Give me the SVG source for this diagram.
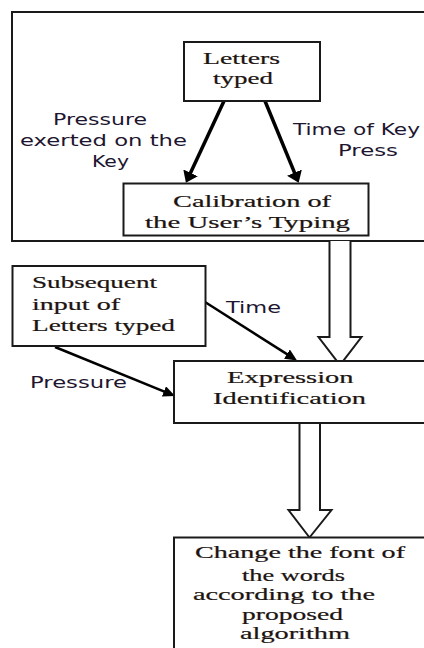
<svg xmlns="http://www.w3.org/2000/svg" width="424" height="648" viewBox="0 0 424 648">
<defs>
<style>
.box{fill:#fff;stroke:#1a1a1a;stroke-width:2}
.serif{font-family:"Liberation Serif","Times New Roman",serif;font-size:17px;fill:#1c1410;stroke:#1c1410;stroke-width:0.2}
.serif2{font-family:"Liberation Serif","Times New Roman",serif;font-size:16px;fill:#1c1410;stroke:#1c1410;stroke-width:0.2}
.sans{font-family:"DejaVu Sans",Verdana,sans-serif;font-size:15px;fill:#1e1630}
.thick{stroke:#000;stroke-width:3.5;fill:none}
.thin{stroke:#000;stroke-width:2.5;fill:none}
.hollow{fill:#fff;stroke:#1a1a1a;stroke-width:2;stroke-linejoin:miter}
</style>
<marker id="headBig" viewBox="0 0 10 10" refX="7" refY="5" markerWidth="11" markerHeight="16" markerUnits="userSpaceOnUse" orient="auto" preserveAspectRatio="none">
<path d="M0,0 L10,5 L0,10 z" fill="#000"/>
</marker>
<marker id="headSmall" viewBox="0 0 10 10" refX="7" refY="5" markerWidth="12" markerHeight="11" markerUnits="userSpaceOnUse" orient="auto" preserveAspectRatio="none">
<path d="M0,0 L10,5 L0,10 z" fill="#000"/>
</marker>
</defs>
<rect width="424" height="648" fill="#fff"/>

<g id="outer">
<rect class="box" x="12" y="12" width="430" height="229"/>
</g>

<g id="connectors">
<line class="thick" x1="224" y1="101" x2="187.3" y2="179.8" marker-end="url(#headBig)"/>
<line class="thick" x1="265" y1="101" x2="297.4" y2="179.7" marker-end="url(#headBig)"/>
<line class="thin" x1="205" y1="302" x2="294" y2="358.6" marker-end="url(#headSmall)"/>
<line class="thin" x1="55" y1="347" x2="171.7" y2="394.6" marker-end="url(#headSmall)"/>
<path class="hollow" d="M329.5,241 V337 H318.5 L340,365 L361.5,337 H350.5 V241"/>
<path class="hollow" d="M299.5,423 V510 H288.5 L309.5,537.5 L331.5,510 H320 V423"/>
</g>
<g id="labels">
<text class="sans" x="53" y="125" textLength="94" lengthAdjust="spacingAndGlyphs">Pressure</text>
<text class="sans" x="20" y="145.5" textLength="167" lengthAdjust="spacingAndGlyphs">exerted on the</text>
<text class="sans" x="92" y="166.5" textLength="37" lengthAdjust="spacingAndGlyphs">Key</text>
<text class="sans" x="293" y="135" textLength="127" lengthAdjust="spacingAndGlyphs">Time of Key</text>
<text class="sans" x="338" y="156" textLength="60" lengthAdjust="spacingAndGlyphs">Press</text>
<text class="sans" x="226" y="312.5" textLength="55" lengthAdjust="spacingAndGlyphs">Time</text>
<text class="sans" x="30" y="388" textLength="97" lengthAdjust="spacingAndGlyphs">Pressure</text>
</g>

<g id="letters-typed">
<rect class="box" x="184" y="42" width="136" height="59"/>
<text class="serif" x="203" y="63.5" textLength="77" lengthAdjust="spacingAndGlyphs">Letters</text>
<text class="serif" x="213" y="83.5" textLength="60" lengthAdjust="spacingAndGlyphs">typed</text>
</g>

<g id="calibration">
<rect class="box" x="123.5" y="183.5" width="245" height="52"/>
<text class="serif" x="173" y="206.5" textLength="158" lengthAdjust="spacingAndGlyphs">Calibration of</text>
<text class="serif" x="145" y="228.3" textLength="205" lengthAdjust="spacingAndGlyphs">the User’s Typing</text>
</g>

<g id="subsequent">
<rect class="box" x="12.5" y="266" width="193" height="80"/>
<text class="serif" x="32" y="288.3" textLength="125" lengthAdjust="spacingAndGlyphs">Subsequent</text>
<text class="serif" x="32" y="310" textLength="88" lengthAdjust="spacingAndGlyphs">input of</text>
<text class="serif" x="32" y="330.5" textLength="143" lengthAdjust="spacingAndGlyphs">Letters typed</text>
</g>

<g id="expression">
<rect class="box" x="174" y="361" width="260" height="62"/>
<text class="serif" x="227" y="383.3" textLength="126.6" lengthAdjust="spacingAndGlyphs">Expression</text>
<text class="serif" x="213" y="404.3" textLength="153" lengthAdjust="spacingAndGlyphs">Identification</text>
</g>

<g id="change-font">
<rect class="box" x="174" y="537.5" width="260" height="120"/>
<text class="serif2" x="195" y="558.3" textLength="210" lengthAdjust="spacingAndGlyphs">Change the font of</text>
<text class="serif2" x="242" y="580.7" textLength="103" lengthAdjust="spacingAndGlyphs">the words</text>
<text class="serif2" x="193" y="600" textLength="182" lengthAdjust="spacingAndGlyphs">according to the</text>
<text class="serif2" x="242" y="620" textLength="101" lengthAdjust="spacingAndGlyphs">proposed</text>
<text class="serif2" x="240" y="638.5" textLength="110" lengthAdjust="spacingAndGlyphs">algorithm</text>
</g>
</svg>
